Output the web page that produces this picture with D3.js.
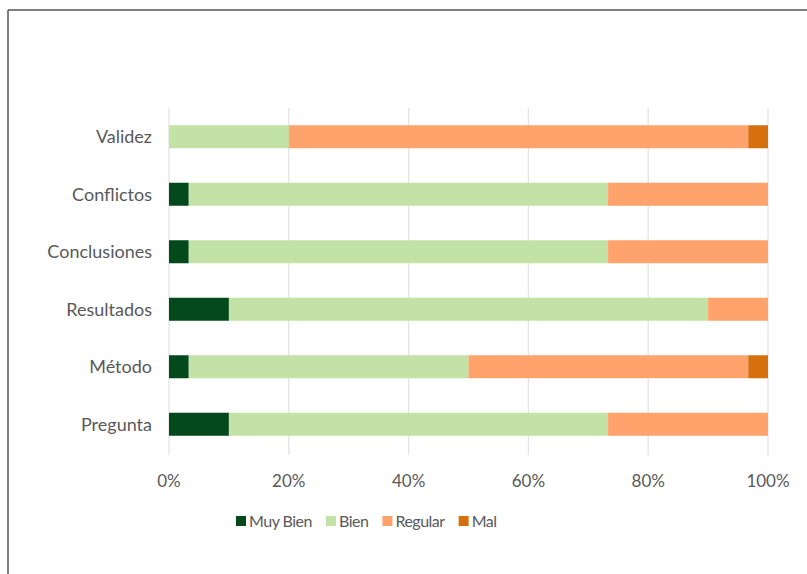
<!DOCTYPE html>
<html>
<head>
<meta charset="utf-8">
<script src="https://cdn.jsdelivr.net/npm/d3@7"></script>
<style>
    body { margin: 0; background: #fff; }
    text { font-family: Lato, "Open Sans", sans-serif; fill: #595959; }
</style>
</head>
<body>
<div id="chart"></div>
<script>
// categories top to bottom
const categories = ["Validez", "Conflictos", "Conclusiones", "Resultados", "Método", "Pregunta"];
const seriesNames = ["Muy Bien", "Bien", "Regular", "Mal"];
// percent of answers per category
const muyBien = [0, 3.3, 3.3, 10, 3.3, 10];
const bien = [20, 70, 70, 80, 46.7, 63.3];
const regular = [76.7, 26.7, 26.7, 10, 46.7, 26.7];
const mal = [3.3, 0, 0, 0, 3.3, 0];
const tickValues = [0, 0.2, 0.4, 0.6, 0.8, 1];

const colors = ["#03491c", "#c3e2a5", "#ffa36c", "#d6700f"];

function drawChart() {
    const width = 807, height = 574;

    const svg = d3.select("#chart")
        .append("svg")
        .attr("width", width)
        .attr("height", height);

    // frame (top and left edges only, like the scan)
    svg.append("line")
        .attr("x1", 8).attr("y1", 10).attr("x2", width).attr("y2", 10)
        .style("stroke", "#555").style("stroke-width", 1.5);
    svg.append("line")
        .attr("x1", 8).attr("y1", 10).attr("x2", 8).attr("y2", height)
        .style("stroke", "#555").style("stroke-width", 1.5);

    const table = categories.map((c, i) => ({
        cat: c,
        "Muy Bien": muyBien[i],
        "Bien": bien[i],
        "Regular": regular[i],
        "Mal": mal[i]
    }));

    const stacked = d3.stack().keys(seriesNames)
        .offset(d3.stackOffsetExpand)(table);

    const x = d3.scaleLinear().domain([0, 1]).range([169, 768]);
    const y = d3.scaleBand().domain(categories).range([108, 453])
        .paddingInner(0.6).paddingOuter(0.3);

    // gridlines
    svg.append("g")
        .selectAll("line")
        .data(tickValues)
        .join("line")
        .attr("x1", d => x(d)).attr("x2", d => x(d))
        .attr("y1", 108).attr("y2", 455)
        .style("stroke", "#e3e3e3")
        .style("stroke-width", 1.3);

    // bars
    svg.append("g")
        .selectAll("g")
        .data(stacked)
        .join("g")
        .style("fill", (d, i) => colors[i])
        .selectAll("rect")
        .data(d => d)
        .join("rect")
        .attr("x", d => x(d[0]))
        .attr("y", d => y(d.data.cat))
        .attr("width", d => x(d[1]) - x(d[0]))
        .attr("height", y.bandwidth());

    // category labels
    svg.append("g")
        .selectAll("text")
        .data(categories)
        .join("text")
        .attr("x", 152)
        .attr("y", d => y(d) + y.bandwidth() / 2)
        .attr("dy", "0.35em")
        .attr("text-anchor", "end")
        .style("font-size", "18px")
        .text(d => d);

    // x tick labels
    svg.append("g")
        .selectAll("text")
        .data(tickValues)
        .join("text")
        .attr("x", d => x(d))
        .attr("y", 487)
        .attr("text-anchor", "middle")
        .style("font-size", "17px")
        .text(d3.format(".0%"));

    // legend
    const legend = svg.append("g");
    let lx = 236;
    seriesNames.forEach((name, i) => {
        legend.append("rect")
            .attr("x", lx).attr("y", 516)
            .attr("width", 10).attr("height", 10)
            .style("fill", colors[i]);
        const t = legend.append("text")
            .attr("x", lx + 13).attr("y", 527)
            .style("font-size", "16px")
            .style("letter-spacing", "-0.5px")
            .text(name);
        lx += 13 + t.node().getComputedTextLength() + 14;
    });
}

drawChart();
</script>
</body>
</html>
